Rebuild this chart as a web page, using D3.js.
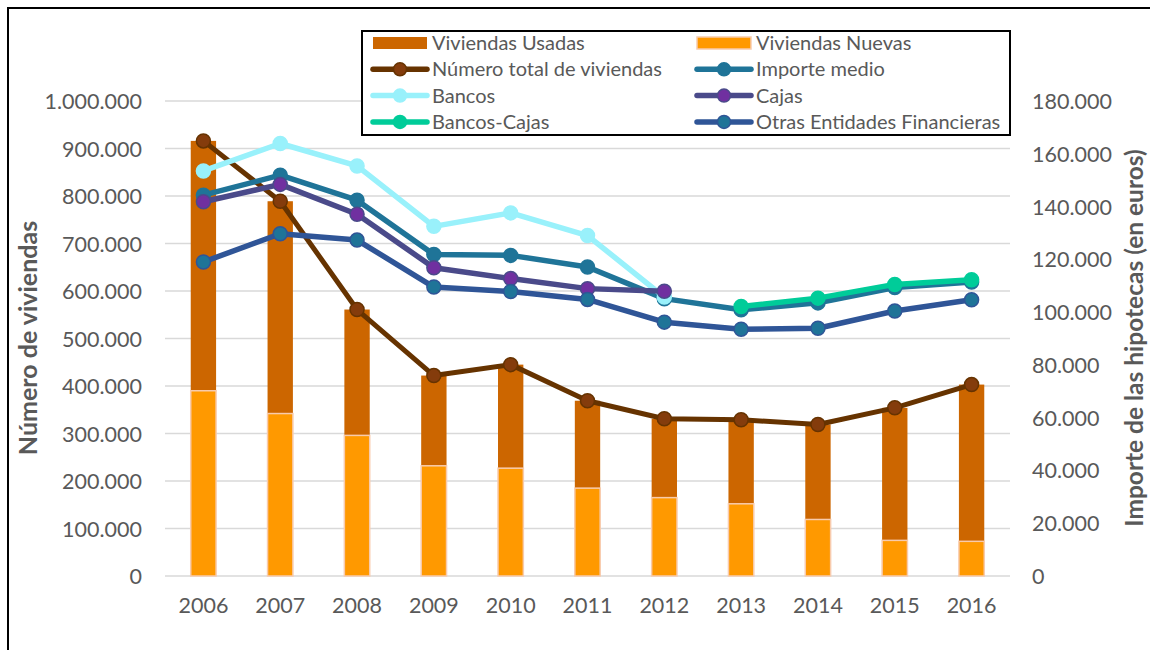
<!DOCTYPE html>
<html>
<head>
<meta charset="utf-8">
<script src="https://cdn.jsdelivr.net/npm/d3@7"></script>
<style>
  body { margin: 0; background: #fff; }
  text { font-family: Lato, "Open Sans", sans-serif; fill: #595959; }
</style>
</head>
<body>
<script>
// data
var years = ["2006","2007","2008","2009","2010","2011","2012","2013","2014","2015","2016"];
var totalViviendas = [916000, 789000, 561000, 422000, 445000, 369000, 331000, 329000, 319000, 354000, 403000];
var viviendasNuevas = [390000, 342000, 296000, 232000, 227000, 185000, 165000, 152000, 119000, 75000, 73000];
var importeMedio = [144300, 151900, 142400, 121800, 121500, 117100, 105100, 100900, 103500, 109300, 111400];
var bancos = [153500, 163900, 155400, 132500, 137600, 129000, 105700];
var cajas = [141800, 148400, 137100, 116800, 112700, 108900, 107900];
var bancosCajas = [102100, 105300, 110500, 112300]; // 2013-2016
var otras = [119000, 129700, 127300, 109500, 107800, 104800, 96200, 93500, 93900, 100400, 104700];
var leftTicks = d3.range(0, 1000001, 100000);
var rightTicks = d3.range(0, 180001, 20000);

var W = 1150, H = 650;
var svg = d3.select('body').append('svg').attr('width', W).attr('height', H);

var es = d3.formatLocale({decimal: ",", thousands: ".", grouping: [3], currency: ["", "€"]});
var fmt = es.format(",");

var x = d3.scaleBand().domain(years).range([165, 1010]);
var yL = d3.scaleLinear().domain([0, 1000000]).range([576, 101]);
var yR = d3.scaleLinear().domain([0, 180000]).range([576, 101]);

// outer frame
svg.append('path').attr('d', 'M8,' + H + 'V8H' + W)
  .attr('fill', 'none').attr('stroke', '#000').attr('stroke-width', 2);

// gridlines
svg.append('g').selectAll('line').data(leftTicks).enter().append('line')
  .attr('x1', 165).attr('x2', 1010)
  .attr('y1', function(d){ return yL(d); }).attr('y2', function(d){ return yL(d); })
  .attr('stroke', '#d9d9d9').attr('stroke-width', 1.5);

// left axis
var axL = svg.append('g').attr('transform', 'translate(150,0)')
  .call(d3.axisLeft(yL).tickValues(leftTicks).tickFormat(fmt).tickSize(0).tickPadding(8));
axL.select('.domain').remove();
axL.selectAll('text').style('font-size', '21.5px').attr('dy', '0.35em').attr('fill', '#595959');

// right axis
var axR = svg.append('g').attr('transform', 'translate(1024,0)')
  .call(d3.axisRight(yR).tickValues(rightTicks).tickFormat(fmt).tickSize(0).tickPadding(8));
axR.select('.domain').remove();
axR.selectAll('text').style('font-size', '21.5px').attr('dy', '0.35em').attr('fill', '#595959');

// x axis
var axX = svg.append('g').attr('transform', 'translate(0,590)')
  .call(d3.axisBottom(x).tickSize(0).tickPadding(8));
axX.select('.domain').remove();
axX.selectAll('text').style('font-size', '21.5px').attr('fill', '#595959');

// axis titles
svg.append('text').attr('transform', 'translate(37,338) rotate(-90)')
  .attr('text-anchor', 'middle').style('font-size', '25px').style('font-weight', 'bold')
  .text('Número  de viviendas');
svg.append('text').attr('transform', 'translate(1143,338) rotate(-90)')
  .attr('text-anchor', 'middle').style('font-size', '24.5px').style('font-weight', 'bold')
  .text('Importe de las hipotecas (en euros)');

// stacked bars
var bw = x.step() * 0.33;
var bars = svg.append('g');
bars.selectAll('.usadas').data(years).enter().append('rect')
  .attr('x', function(d){ return x(d) + x.bandwidth()/2 - bw/2; })
  .attr('width', bw)
  .attr('y', function(d, i){ return yL(totalViviendas[i]); })
  .attr('height', function(d, i){ return yL(viviendasNuevas[i]) - yL(totalViviendas[i]); })
  .attr('fill', '#cc6600');
bars.selectAll('.nuevas').data(years).enter().append('rect')
  .attr('x', function(d){ return x(d) + x.bandwidth()/2 - bw/2; })
  .attr('width', bw)
  .attr('y', function(d, i){ return yL(viviendasNuevas[i]); })
  .attr('height', function(d, i){ return yL(0) - yL(viviendasNuevas[i]); })
  .attr('fill', '#ff9900').attr('stroke', '#f8cbad').attr('stroke-width', 1.5);

var cx = function(yr){ return x(yr) + x.bandwidth()/2; };

var series = [
  {vals: totalViviendas, yrs: years, y: yL, line: '#663300', dot: '#843c0c', ring: '#663300', w: 5},
  {vals: importeMedio, yrs: years, y: yR, line: '#1f7498', dot: '#1f7498', ring: '#1f7498', w: 5.5},
  {vals: bancos, yrs: years.slice(0, 7), y: yR, line: '#99f1fb', dot: '#99f1fb', ring: '#99f1fb', w: 5.5},
  {vals: cajas, yrs: years.slice(0, 7), y: yR, line: '#4a4a8a', dot: '#7030a0', ring: '#4a4a8a', w: 5.5},
  {vals: bancosCajas, yrs: years.slice(7), y: yR, line: '#00cc99', dot: '#00cc99', ring: '#00cc99', w: 5.5},
  {vals: otras, yrs: years, y: yR, line: '#2f5597', dot: '#1f7498', ring: '#2f5597', w: 5.5}
];

series.forEach(function(s){
  var line = d3.line()
    .x(function(d, i){ return cx(s.yrs[i]); })
    .y(function(d){ return s.y(d); });
  var g = svg.append('g');
  g.append('path').datum(s.vals).attr('d', line)
    .attr('fill', 'none').attr('stroke', s.line).attr('stroke-width', s.w)
    .attr('stroke-linejoin', 'round');
  g.selectAll('circle').data(s.vals).enter().append('circle')
    .attr('cx', function(d, i){ return cx(s.yrs[i]); })
    .attr('cy', function(d){ return s.y(d); })
    .attr('r', 7)
    .attr('fill', s.dot).attr('stroke', s.ring).attr('stroke-width', 1.5);
});

// legend
var legend = svg.append('g');
legend.append('rect').attr('x', 362).attr('y', 31).attr('width', 648).attr('height', 104)
  .attr('fill', '#fff').attr('stroke', '#000').attr('stroke-width', 2);

var legendItems = [
  {name: 'Viviendas Usadas', type: 'bar', fill: '#cc6600'},
  {name: 'Viviendas Nuevas', type: 'bar', fill: '#ff9900', stroke: '#f8cbad'},
  {name: 'Número total de viviendas', type: 'line', s: series[0]},
  {name: 'Importe medio', type: 'line', s: series[1]},
  {name: 'Bancos', type: 'line', s: series[2]},
  {name: 'Cajas', type: 'line', s: series[3]},
  {name: 'Bancos-Cajas', type: 'line', s: series[4]},
  {name: 'Otras Entidades Financieras', type: 'line', s: series[5]}
];

legendItems.forEach(function(d, i){
  var lx = i % 2 === 0 ? 373 : 697;
  var ly = 43 + Math.floor(i / 2) * 26.3;
  var g = legend.append('g').attr('transform', 'translate(' + lx + ',' + ly + ')');
  if (d.type === 'bar') {
    g.append('rect').attr('x', 0).attr('y', -6).attr('width', 54).attr('height', 12)
      .attr('fill', d.fill).attr('stroke', d.stroke || 'none').attr('stroke-width', 1.5);
  } else {
    g.append('line').attr('x1', 0).attr('x2', 54).attr('y1', 0).attr('y2', 0)
      .attr('stroke', d.s.line).attr('stroke-width', 5.5).attr('stroke-linecap', 'round');
    g.append('circle').attr('cx', 27).attr('r', 6.5)
      .attr('fill', d.s.dot).attr('stroke', d.s.ring).attr('stroke-width', 1.5);
  }
  g.append('text').attr('x', 59).attr('dy', '0.35em').style('font-size', '20px').text(d.name);
});
</script>
</body>
</html>
